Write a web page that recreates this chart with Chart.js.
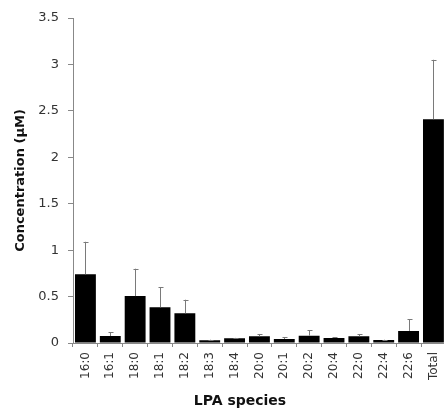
<!DOCTYPE html>
<html>
<head>
<meta charset="utf-8">
<script src="https://cdn.jsdelivr.net/npm/chart.js@4"></script>
<style>
html,body{margin:0;padding:0;background:#fff;overflow:hidden;}
#wrap{width:453px;height:411px;position:relative;}
</style>
</head>
<body>
<div id="wrap"><canvas id="c"></canvas></div>
<script>
const categories = ["16:0","16:1","18:0","18:1","18:2","18:3","18:4","20:0","20:1","20:2","20:4","22:0","22:4","22:6","Total"];
const meanValues = [0.74,0.075,0.505,0.385,0.32,0.03,0.05,0.072,0.043,0.079,0.054,0.072,0.032,0.13,2.41];
const errorValues = [0.35,0.04,0.295,0.215,0.146,0.005,0.005,0.025,0.017,0.058,0.006,0.022,0.003,0.125,0.64];
const yTicks = [0,0.5,1,1.5,2,2.5,3,3.5];

const FONT = '"DejaVu Sans", "Liberation Sans", Arial, sans-serif';

const errorBarPlugin = {
  id: 'errorBars',
  afterDatasetsDraw(chart) {
    const ctx = chart.ctx;
    const meta = chart.getDatasetMeta(0);
    const y = chart.scales.y;
    ctx.save();
    ctx.strokeStyle = '#7a7a7a';
    ctx.lineWidth = 1;
    meta.data.forEach((bar, i) => {
      const top = y.getPixelForValue(meanValues[i] + errorValues[i]);
      const base = y.getPixelForValue(meanValues[i]);
      const x = Math.round(bar.x) + 0.5;
      ctx.beginPath();
      ctx.moveTo(x, base);
      ctx.lineTo(x, top);
      ctx.moveTo(x - 2, Math.round(top) + 0.5);
      ctx.lineTo(x + 3, Math.round(top) + 0.5);
      ctx.stroke();
    });
    ctx.restore();
  }
};

const xTitlePlugin = {
  id: 'xTitle',
  afterDraw(chart) {
    const ctx = chart.ctx;
    ctx.save();
    ctx.font = 'bold 14px ' + FONT;
    ctx.fillStyle = '#111';
    ctx.textAlign = 'center';
    ctx.textBaseline = 'middle';
    ctx.fillText('LPA species', chart.chartArea.left + 167, 401);
    ctx.restore();
  }
};

new Chart(document.getElementById('c'), {
  type: 'bar',
  data: {
    labels: categories,
    datasets: [{
      data: meanValues,
      backgroundColor: '#000',
      borderColor: '#000',
      borderWidth: 0,
      categoryPercentage: 1,
      barPercentage: 0.84
    }]
  },
  options: {
    responsive: true,
    maintainAspectRatio: false,
    animation: false,
    layout: { padding: { top: 18, right: 5, left: 0, bottom: 0 } },
    plugins: { legend: { display: false }, tooltip: { enabled: false } },
    scales: {
      x: {
        afterFit(s) { s.height = 68; },
        grid: { drawOnChartArea: false, drawTicks: true, tickLength: 4, color: '#888', offset: true },
        border: { color: '#888', width: 1 },
        ticks: { minRotation: 90, maxRotation: 90, autoSkip: false, color: '#333', font: { family: FONT, size: 12 }, padding: 5 }
      },
      y: {
        min: 0, max: 3.5,
        afterFit(s) { s.width = 73; },
        afterBuildTicks(s) { s.ticks = yTicks.map(v => ({ value: v })); },
        grid: { drawOnChartArea: false, drawTicks: true, tickLength: 5, color: '#888' },
        border: { color: '#888', width: 1 },
        ticks: { color: '#333', font: { family: FONT, size: 13 }, padding: 9, callback: v => String(v) },
        title: { display: true, text: 'Concentration (μM)', color: '#111', font: { family: FONT, size: 13, weight: 'bold' }, padding: { top: 13, bottom: 0 } }
      }
    }
  },
  plugins: [errorBarPlugin, xTitlePlugin]
});
</script>
</body>
</html>
